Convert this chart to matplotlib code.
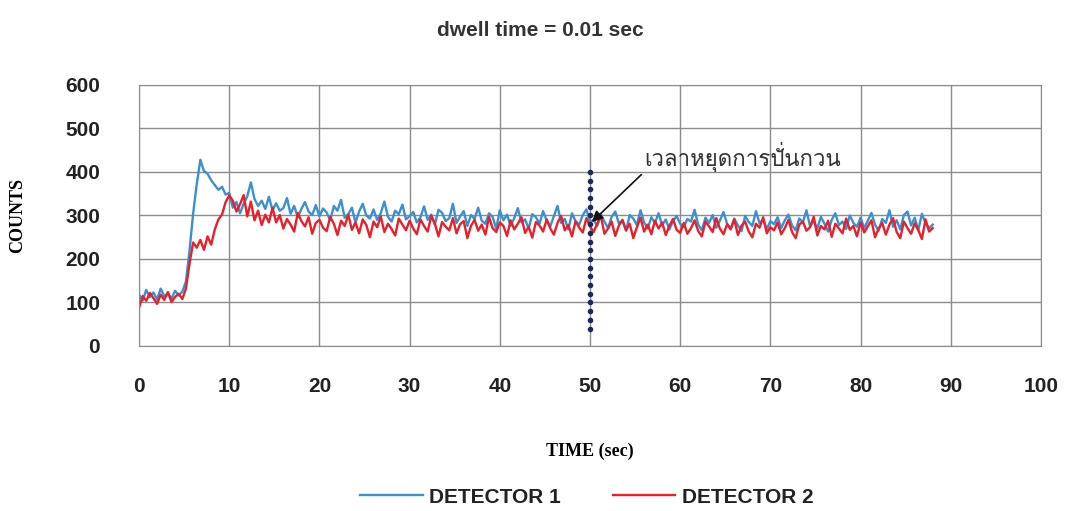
import matplotlib
matplotlib.use("Agg")
import matplotlib.pyplot as plt
import numpy as np
from matplotlib import font_manager
from matplotlib.ft2font import FT2Font

time_step = 0.4
detector1 = [
    118, 104, 129, 112, 123, 107, 132, 114, 121, 109, 127, 116, 125,
    148, 220, 305, 372, 428, 402, 396, 381, 370, 359, 366, 348,
    352, 318, 331, 305, 327, 344, 376, 338, 322, 334, 315, 343, 312,
    328, 311, 317, 340, 304, 322, 296, 315, 331, 309, 301, 324, 298,
    316, 307, 289, 322, 311, 336, 295, 303, 318, 284, 309, 327, 300, 293, 314, 290, 305, 332, 297, 286, 311, 303, 325, 291, 299,
    308, 284, 296, 321, 290, 302, 279, 313, 306, 287, 294, 327, 283, 298, 310, 276, 301, 292, 318, 288, 281, 305, 297, 270, 312,
    289, 302, 276, 294, 317, 284, 291, 270, 303, 296, 281, 310, 288, 275, 299, 322, 283, 292, 268, 305, 287, 279, 301, 314, 285,
    290, 276, 303, 286, 271, 297, 309, 282, 288, 265, 301, 293, 278, 312, 284, 270, 296, 283, 305, 277, 291, 268, 287, 299, 281,
    274, 292, 286, 313, 279, 266, 295, 283, 301, 272, 288, 308, 281, 270, 293, 277, 264, 299, 285, 276, 310, 282, 291, 269, 287,
    280, 296, 271, 289, 302, 277, 266, 293, 284, 312, 275, 288, 270, 297, 281, 263, 290, 305, 278, 286, 269, 300, 283, 274, 295,
    271, 288, 306, 279, 265, 292, 283, 312, 274, 289, 268, 301, 309, 277, 295, 266, 304, 282, 271, 279,
]
detector2 = [
    88, 115, 104, 122, 110, 97, 118, 106, 124, 101, 113, 120, 108,
    132, 190, 238, 226, 244, 221, 252, 233, 268, 291, 302, 331,
    346, 334, 309, 326, 347, 298, 332, 289, 311, 278, 302, 284, 318,
    284, 301, 270, 292, 279, 263, 306, 287, 275, 296, 258, 283, 290,
    272, 264, 297, 281, 255, 288, 276, 302, 267, 284, 259, 291, 278, 250, 286, 273, 298, 262, 281, 269, 254, 293, 279, 266, 288,
    270, 257, 291, 276, 263, 299, 281, 252, 285, 274, 266, 294, 259, 280, 287, 248, 276, 290, 265, 279, 256, 297, 271, 262, 284,
    276, 253, 289, 268, 281, 296, 260, 274, 249, 285, 277, 263, 291, 270, 256, 283, 299, 266, 278, 252, 287, 272, 261, 294, 275,
    262, 281, 299, 258, 270, 286, 253, 277, 290, 266, 281, 248, 273, 295, 263, 279, 257, 288, 270, 284, 255, 276, 292, 267, 260,
    283, 258, 271, 289, 264, 252, 286, 275, 262, 294, 270, 257, 280, 268, 291, 255, 277, 286, 263, 250, 281, 272, 296, 259, 273,
    266, 284, 257, 271, 290, 262, 248, 279, 286, 265, 273, 297, 254, 276, 268, 288, 251, 281, 270, 259, 293, 267, 276, 252, 284,
    261, 275, 289, 250, 270, 283, 256, 279, 294, 262, 248, 286, 271, 258, 282, 266, 246, 291, 263, 271,
]
stop_time = 50
stop_counts = [40, 60, 80, 100, 120, 140, 160, 180, 200, 220, 240, 260, 280, 300, 320, 340, 360, 380, 400]
stop_label = "เวลาหยุดการปั่นกวน"
xticks = [0, 10, 20, 30, 40, 50, 60, 70, 80, 90, 100]
yticks = [0, 100, 200, 300, 400, 500, 600]


def thai_font():
    # look for any installed font that has Thai glyphs
    for f in font_manager.fontManager.ttflist:
        try:
            if 0x0E27 in FT2Font(f.fname).get_charmap():
                return f.name
        except Exception:
            pass
    return "DejaVu Sans"


t1 = np.arange(len(detector1)) * time_step
t2 = np.arange(len(detector2)) * time_step

fig = plt.figure(figsize=(10.67, 5.11), dpi=100)
ax = fig.add_axes([0.1303, 0.3229, 0.8453, 0.5108])

ax.plot(t1, detector1, color="#3b8fd3", lw=1.7, label="DETECTOR 1")
ax.plot(t2, detector2, color="#e8202a", lw=1.7, label="DETECTOR 2")
ax.plot([stop_time] * len(stop_counts), stop_counts, ls="none", marker="o",
        ms=3, color="#1a2a5a")

ax.annotate(stop_label, xy=(50.2, 285), xytext=(56.0, 400),
            fontsize=16, color="#333333", family=[thai_font(), "DejaVu Sans"],
            va="bottom", ha="left",
            arrowprops=dict(arrowstyle="-|>", color="#111111", lw=1.2,
                            mutation_scale=16, shrinkA=0, shrinkB=0,
                            relpos=(0, 0)))

ax.set_xlim(0, 100)
ax.set_ylim(0, 600)
ax.set_xticks(xticks)
ax.set_yticks(yticks)
ax.grid(True, color="#8c8c8c", lw=1.0)
for s in ax.spines.values():
    s.set_color("#8c8c8c")
ax.tick_params(length=0)
ax.tick_params(axis="y", pad=28)
ax.tick_params(axis="x", pad=22)
for lab in ax.get_xticklabels() + ax.get_yticklabels():
    lab.set_fontfamily("Liberation Sans")
    lab.set_fontweight("bold")
    lab.set_fontsize(15)
    lab.set_color("#222222")

ax.set_xlabel("TIME (sec)", family="Liberation Serif", weight="bold",
              fontsize=13, labelpad=34)
ax.set_ylabel("COUNTS", family="Liberation Serif", weight="bold",
              fontsize=13, labelpad=28)
fig.text(0.506, 0.94, "dwell time = 0.01 sec", ha="center", va="center",
         family="Liberation Sans", weight="bold", fontsize=15, color="#333333")

fig.legend(loc="center", bbox_to_anchor=(0.55, 0.027), ncol=2, frameon=False,
           prop={"family": "Liberation Sans", "weight": "bold", "size": 15},
           handlelength=3, columnspacing=2.5, handletextpad=0.3,
           labelcolor="#222222")

fig.savefig("out.png", dpi=100)
